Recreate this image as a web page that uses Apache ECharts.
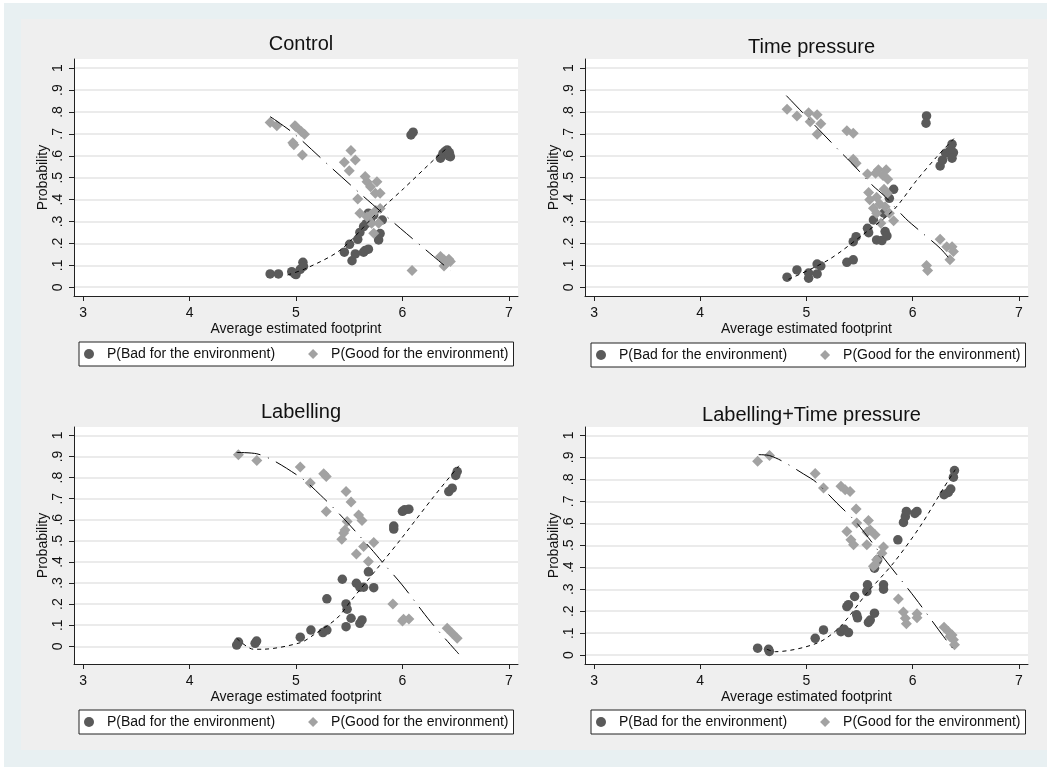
<!DOCTYPE html>
<html>
<head>
<meta charset="utf-8">
<script src="https://cdn.jsdelivr.net/npm/echarts@6/dist/echarts.min.js"></script>
<style>
  html, body { margin: 0; padding: 0; background: #fff; }
  #main { width: 1047px; height: 767px; }
</style>
</head>
<body>
<div id="main"></div>
<script>
// panel titles + shared ticks
var panelTitles = ['Control', 'Time pressure', 'Labelling', 'Labelling+Time pressure'];
var xTicks = [3, 4, 5, 6, 7];
var yTicks = [0, 0.1, 0.2, 0.3, 0.4, 0.5, 0.6, 0.7, 0.8, 0.9, 1];
var badName = 'P(Bad for the environment)';
var goodName = 'P(Good for the environment)';

// Control
var controlBad = [[4.757,.061],[4.835,.061],[4.96,.071],[4.99,.061],[5.00,.058],[5.04,.082],[5.065,.114],[5.07,.095],
  [5.454,.16],[5.503,.196],[5.526,.121],[5.557,.152],[5.58,.219],[5.60,.25],[5.635,.16],[5.65,.168],[5.68,.174],
  [5.635,.277],[5.66,.29],[5.68,.338],[5.70,.31],[5.73,.33],[5.81,.307],[5.776,.216],[5.79,.245],
  [6.08,.695],[6.10,.708],[6.357,.589],[6.38,.61],[6.40,.62],[6.42,.627],[6.436,.6],[6.45,.596],[6.44,.615]];
var controlGood = [[4.757,.752],[4.82,.737],[4.99,.737],[5.00,.733],[5.05,.711],[5.08,.699],[4.97,.66],[4.98,.65],[5.06,.604],
  [5.516,.624],[5.454,.571],[5.557,.581],[5.50,.532],[5.65,.505],[5.667,.482],[5.76,.482],[5.70,.459],[5.79,.429],
  [5.745,.429],[5.58,.403],[5.60,.338],[5.79,.36],[5.667,.322],[5.71,.292],[5.776,.292],[5.73,.246],[5.70,.33],[5.75,.35],
  [6.09,.076],[6.357,.14],[6.39,.125],[6.42,.117],[6.436,.128],[6.45,.117],[6.39,.097],[6.41,.11]];
var controlBadFit = [[4.92,.056],[5.10,.087],[5.416,.17],[5.76,.338],[6.01,.45],[6.326,.596],[6.435,.642]];
var controlGoodFit = [[4.757,.779],[4.976,.703],[5.32,.551],[5.635,.414],[5.98,.269],[6.294,.14],[6.45,.076]];

// Time pressure
var tpBad = [[4.817,.046],[4.91,.079],[5.02,.041],[5.02,.065],[5.10,.061],[5.10,.106],[5.135,.097],[5.38,.114],[5.44,.125],
  [5.44,.208],[5.467,.231],[5.574,.269],[5.585,.249],[5.63,.307],[5.66,.216],[5.71,.213],[5.74,.254],[5.757,.234],
  [5.73,.338],[5.78,.406],[5.82,.447],[6.13,.782],[6.125,.749],[6.258,.554],[6.28,.58],[6.31,.612],[6.355,.627],
  [6.37,.653],[6.383,.615],[6.37,.589]];
var tpGood = [[4.817,.813],[4.91,.782],[5.02,.797],[5.10,.787],[5.035,.756],[5.135,.746],[5.10,.699],[5.38,.715],[5.44,.703],
  [5.44,.584],[5.467,.566],[5.574,.517],[5.677,.536],[5.75,.536],[5.65,.52],[5.72,.51],[5.765,.493],[5.585,.432],
  [5.73,.447],[5.76,.429],[5.595,.399],[5.66,.411],[5.63,.361],[5.69,.38],[5.74,.368],[5.66,.338],[5.78,.338],
  [5.82,.304],[5.70,.292],[6.258,.219],[6.32,.185],[6.37,.185],[6.383,.163],[6.35,.125],[6.13,.099],[6.14,.076]];
var tpBadFit = [[4.83,.036],[5.207,.125],[5.568,.254],[5.82,.353],[6.04,.49],[6.227,.596],[6.40,.685]];
var tpGoodFit = [[4.81,.875],[5.317,.619],[5.427,.566],[5.617,.467],[5.74,.414],[5.93,.315],[6.055,.262],[6.258,.178],[6.38,.11]];

// Labelling
var labBad = [[4.443,.006],[4.46,.02],[4.616,.014],[4.63,.025],[5.04,.043],[5.14,.077],[5.253,.065],[5.29,.077],[5.29,.225],
  [5.435,.318],[5.47,.201],[5.48,.176],[5.47,.093],[5.517,.133],[5.567,.299],[5.60,.28],[5.635,.28],[5.73,.278],
  [5.68,.353],[5.60,.109],[5.62,.125],[5.918,.556],[5.918,.57],[6.0,.64],[6.02,.647],[6.06,.65],[6.435,.734],
  [6.467,.75],[6.5,.81],[6.514,.829]];
var labGood = [[4.459,.908],[4.632,.881],[5.04,.85],[5.26,.818],[5.284,.805],[5.134,.774],[5.284,.639],[5.47,.734],
  [5.517,.684],[5.588,.623],[5.62,.596],[5.48,.592],[5.46,.552],[5.447,.537],[5.43,.508],[5.73,.492],[5.635,.473],
  [5.567,.438],[5.68,.402],[5.91,.201],[6.0,.12],[6.01,.128],[6.06,.13],[6.42,.085],[6.467,.062],[6.514,.038]];
var labBadFit = [[4.443,.038],[4.60,-.014],[4.68,-.014],[5.04,.017],[5.165,.054],[5.385,.133],[5.51,.212],[5.79,.386],[5.98,.505],[6.294,.71],[6.53,.856]];
var labGoodFit = [[4.443,.919],[4.632,.913],[5.04,.802],[5.228,.718],[5.416,.623],[5.70,.465],[5.82,.394],[5.997,.291],[6.263,.117],[6.53,-.037]];

// Labelling+Time pressure
var ltBad = [[4.54,.032],[4.643,.027],[4.65,.017],[5.082,.077],[5.16,.115],[5.324,.107],[5.355,.118],[5.395,.103],[5.38,.221],
  [5.395,.23],[5.453,.267],[5.472,.184],[5.48,.17],[5.583,.149],[5.6,.16],[5.64,.191],[5.568,.29],[5.574,.32],[5.725,.32],
  [5.725,.30],[5.64,.396],[5.67,.434],[5.86,.525],[5.913,.604],[5.93,.63],[5.94,.654],[6.02,.645],[6.04,.654],
  [6.295,.73],[6.335,.74],[6.358,.756],[6.383,.81],[6.393,.84]];
var ltGood = [[4.54,.882],[4.652,.908],[5.082,.826],[5.16,.76],[5.324,.768],[5.364,.753],[5.41,.745],[5.467,.665],[5.473,.601],
  [5.583,.613],[5.60,.57],[5.646,.548],[5.57,.56],[5.38,.563],[5.418,.525],[5.443,.502],[5.568,.502],[5.725,.492],
  [5.71,.464],[5.66,.434],[5.646,.411],[5.63,.405],[5.865,.256],[5.912,.196],[5.93,.168],[5.94,.143],[6.04,.188],
  [6.04,.17],[6.295,.127],[6.335,.108],[6.37,.092],[6.383,.07],[6.393,.047],[6.35,.085]];
var ltBadFit = [[4.627,.027],[4.706,.016],[5.10,.055],[5.317,.13],[5.568,.282],[5.818,.419],[6.07,.586],[6.29,.76],[6.40,.844]];
var ltGoodFit = [[4.55,.912],[4.652,.908],[5.035,.806],[5.10,.783],[5.286,.692],[5.474,.601],[5.74,.434],[6.023,.26],[6.29,.085],[6.40,.016]];

var panelBad = [controlBad, tpBad, labBad, ltBad];
var panelGood = [controlGood, tpGood, labGood, ltGood];
var panelBadFit = [controlBadFit, tpBadFit, labBadFit, ltBadFit];
var panelGoodFit = [controlGoodFit, tpGoodFit, labGoodFit, ltGoodFit];

var font = 'Liberation Sans, Arial, sans-serif';
var layout = [
  {left: 74, top: 59, w: 444, h: 237, yMin: -0.04, yMax: 1.042, titleTop: 29, legLeft: 79, legTop: 342},
  {left: 585, top: 59, w: 443, h: 237, yMin: -0.04, yMax: 1.042, titleTop: 32, legLeft: 591, legTop: 343},
  {left: 74, top: 427, w: 444, h: 237, yMin: -0.084, yMax: 1.04, titleTop: 397, legLeft: 79, legTop: 710},
  {left: 585, top: 427, w: 443, h: 237, yMin: -0.04, yMax: 1.038, titleTop: 400, legLeft: 591, legTop: 710}
];

var grids = [], xAxes = [], yAxes = [], titles = [], legends = [], series = [];
layout.forEach(function (p, i) {
  grids.push({left: p.left, top: p.top, width: p.w, height: p.h, backgroundColor: '#fff', show: true, borderWidth: 0});
  titles.push({text: panelTitles[i], left: p.left + p.w / 2, top: p.titleTop, textAlign: 'center',
    textStyle: {fontFamily: font, fontSize: 20, fontWeight: 'normal', color: '#111'}});
  xAxes.push({
    type: 'value', gridIndex: i, min: 2.915, max: 7.085,
    name: 'Average estimated footprint', nameLocation: 'middle', nameGap: 26,
    nameTextStyle: {fontFamily: font, fontSize: 14, color: '#111'},
    axisLine: {onZero: false, lineStyle: {color: '#222', width: 1}},
    axisTick: {customValues: xTicks, length: 5, lineStyle: {color: '#222'}},
    axisLabel: {customValues: xTicks, margin: 10, fontFamily: font, fontSize: 14, color: '#111'},
    splitLine: {show: false}
  });
  yAxes.push({
    type: 'value', gridIndex: i, min: p.yMin, max: p.yMax,
    name: 'Probability', nameLocation: 'middle', nameGap: 24,
    nameTextStyle: {fontFamily: font, fontSize: 14, color: '#111'},
    axisLine: {show: true, onZero: false, lineStyle: {color: '#222', width: 1}},
    axisTick: {show: true, customValues: yTicks, length: 5, lineStyle: {color: '#222'}},
    axisLabel: {customValues: yTicks, rotate: 90, margin: 9, fontFamily: font, fontSize: 14, color: '#111',
      formatter: function (v) { return v === 0 ? '0' : v === 1 ? '1' : String(Math.round(v * 10) / 10).replace(/^0/, ''); }},
    splitLine: {show: true, lineStyle: {color: '#e4e4e4', width: 1.5}}
  });
  legends.push({
    data: [{name: badName, icon: 'circle'}, {name: goodName, icon: 'diamond'}],
    left: p.legLeft, top: p.legTop, orient: 'horizontal',
    padding: [5, 5, 5, 5], itemWidth: 10, itemHeight: 10, itemGap: 33,
    backgroundColor: '#fff', borderColor: '#222', borderWidth: 1,
    selectedMode: false,
    textStyle: {fontFamily: font, fontSize: 14, color: '#111', padding: [0, 0, 0, 8]}
  });
  series.push({
    name: badName, type: 'scatter', xAxisIndex: i, yAxisIndex: i, data: panelBad[i],
    symbol: 'circle', symbolSize: 9.5, itemStyle: {color: '#5a5a5a', opacity: 1}
  });
  series.push({
    name: goodName, type: 'scatter', xAxisIndex: i, yAxisIndex: i, data: panelGood[i],
    symbol: 'diamond', symbolSize: 11, itemStyle: {color: '#a2a2a2', opacity: 1}
  });
  series.push({
    name: 'badFit' + i, type: 'line', xAxisIndex: i, yAxisIndex: i, data: panelBadFit[i],
    showSymbol: false, smooth: 0.3, lineStyle: {color: '#000', width: 1, type: [4, 4]}
  });
  series.push({
    name: 'goodFit' + i, type: 'line', xAxisIndex: i, yAxisIndex: i, data: panelGoodFit[i],
    showSymbol: false, smooth: 0.3, lineStyle: {color: '#000', width: 1, type: [24, 8, 1, 8]}
  });
});

var chart = echarts.init(document.getElementById('main'));
chart.setOption({
  animation: false,
  backgroundColor: '#fff',
  graphic: [
    {type: 'rect', z: -10, silent: true, shape: {x: 4, y: 3, width: 1043, height: 764}, style: {fill: '#e8f0f2'}},
    {type: 'rect', z: -9, silent: true, shape: {x: 21, y: 19, width: 1026, height: 731}, style: {fill: '#efefef'}}
  ],
  title: titles,
  legend: legends,
  grid: grids,
  xAxis: xAxes,
  yAxis: yAxes,
  series: series
});
</script>
</body>
</html>
